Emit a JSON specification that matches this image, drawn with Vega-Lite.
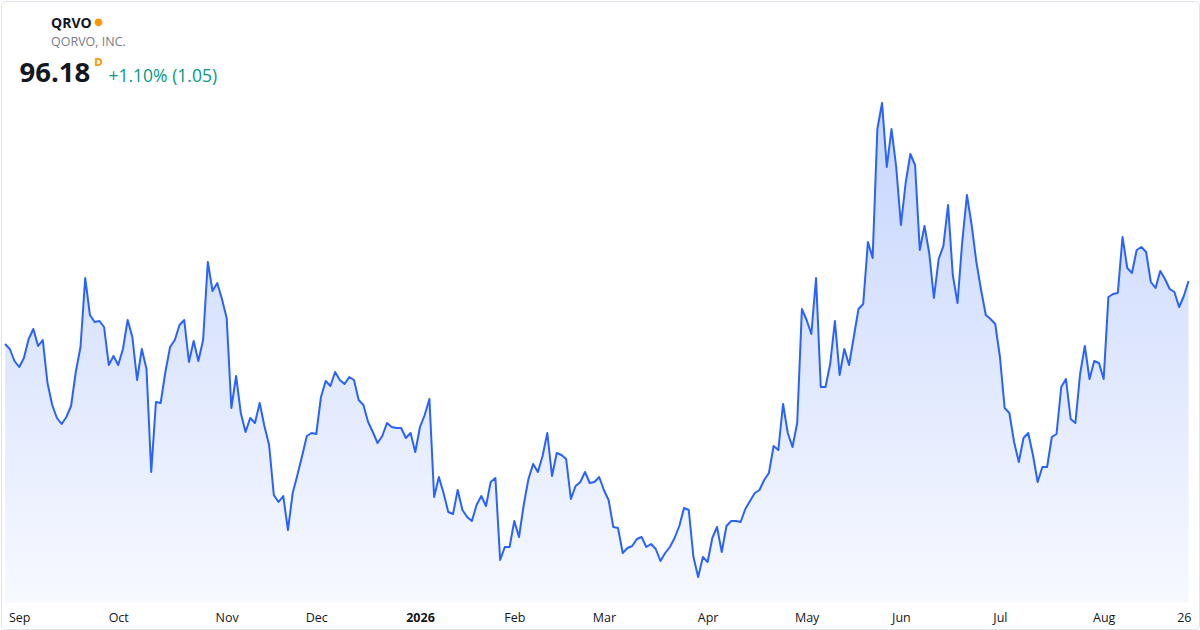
{
  "$schema": "https://vega.github.io/schema/vega-lite/v6.json",
  "width": 1198,
  "height": 628,
  "autosize": {"type": "none"},
  "padding": {"left": 1, "top": 1, "right": 1, "bottom": 1},
  "background": "#ffffff",
  "title": {
    "text": "QRVO",
    "subtitle": "QORVO, INC.",
    "anchor": "start",
    "frame": "group",
    "orient": "top",
    "offset": -47,
    "dx": 50,
    "font": "Open Sans",
    "fontSize": 14,
    "fontWeight": 700,
    "color": "#131722",
    "subtitleFont": "Open Sans",
    "subtitleFontSize": 12.5,
    "subtitleColor": "#787b86",
    "subtitlePadding": 5
  },
  "data": {
    "values": [
      {"date": "2025-08-27", "close": 91.77}, {"date": "2025-08-28", "close": 91.42}, {"date": "2025-08-29", "close": 90.58},
      {"date": "2025-09-02", "close": 90.16}, {"date": "2025-09-03", "close": 90.79}, {"date": "2025-09-04", "close": 92.12},
      {"date": "2025-09-05", "close": 92.82}, {"date": "2025-09-08", "close": 91.63}, {"date": "2025-09-09", "close": 92.05},
      {"date": "2025-09-10", "close": 89.04}, {"date": "2025-09-11", "close": 87.50}, {"date": "2025-09-12", "close": 86.59},
      {"date": "2025-09-15", "close": 86.17}, {"date": "2025-09-16", "close": 86.66}, {"date": "2025-09-17", "close": 87.43},
      {"date": "2025-09-18", "close": 89.81}, {"date": "2025-09-19", "close": 91.56}, {"date": "2025-09-22", "close": 96.39},
      {"date": "2025-09-23", "close": 93.80}, {"date": "2025-09-24", "close": 93.31}, {"date": "2025-09-25", "close": 93.38},
      {"date": "2025-09-26", "close": 92.96}, {"date": "2025-09-29", "close": 90.30}, {"date": "2025-09-30", "close": 90.93},
      {"date": "2025-10-01", "close": 90.30}, {"date": "2025-10-02", "close": 91.42}, {"date": "2025-10-03", "close": 93.45},
      {"date": "2025-10-06", "close": 92.26}, {"date": "2025-10-07", "close": 89.25}, {"date": "2025-10-08", "close": 91.42},
      {"date": "2025-10-09", "close": 90.02}, {"date": "2025-10-10", "close": 82.81}, {"date": "2025-10-13", "close": 87.71},
      {"date": "2025-10-14", "close": 87.64}, {"date": "2025-10-15", "close": 89.81}, {"date": "2025-10-16", "close": 91.56},
      {"date": "2025-10-17", "close": 92.05}, {"date": "2025-10-20", "close": 93.10}, {"date": "2025-10-21", "close": 93.45},
      {"date": "2025-10-22", "close": 90.51}, {"date": "2025-10-23", "close": 91.98}, {"date": "2025-10-24", "close": 90.58},
      {"date": "2025-10-27", "close": 92.05}, {"date": "2025-10-28", "close": 97.51}, {"date": "2025-10-29", "close": 95.48},
      {"date": "2025-10-30", "close": 96.04}, {"date": "2025-10-31", "close": 94.92}, {"date": "2025-11-03", "close": 93.59},
      {"date": "2025-11-04", "close": 87.29}, {"date": "2025-11-05", "close": 89.53}, {"date": "2025-11-06", "close": 86.94},
      {"date": "2025-11-07", "close": 85.61}, {"date": "2025-11-10", "close": 86.59}, {"date": "2025-11-11", "close": 86.24},
      {"date": "2025-11-12", "close": 87.64}, {"date": "2025-11-13", "close": 86.03}, {"date": "2025-11-14", "close": 84.70},
      {"date": "2025-11-17", "close": 81.20}, {"date": "2025-11-18", "close": 80.71}, {"date": "2025-11-19", "close": 81.13},
      {"date": "2025-11-20", "close": 78.75}, {"date": "2025-11-21", "close": 81.34}, {"date": "2025-11-24", "close": 82.60},
      {"date": "2025-11-25", "close": 83.93}, {"date": "2025-11-26", "close": 85.33}, {"date": "2025-11-28", "close": 85.54},
      {"date": "2025-12-01", "close": 85.47}, {"date": "2025-12-02", "close": 88.06}, {"date": "2025-12-03", "close": 89.18},
      {"date": "2025-12-04", "close": 88.83}, {"date": "2025-12-05", "close": 89.81}, {"date": "2025-12-08", "close": 89.25},
      {"date": "2025-12-09", "close": 88.97}, {"date": "2025-12-10", "close": 89.46}, {"date": "2025-12-11", "close": 89.25},
      {"date": "2025-12-12", "close": 87.85}, {"date": "2025-12-15", "close": 87.50}, {"date": "2025-12-16", "close": 86.31},
      {"date": "2025-12-17", "close": 85.61}, {"date": "2025-12-18", "close": 84.84}, {"date": "2025-12-19", "close": 85.33},
      {"date": "2025-12-22", "close": 86.24}, {"date": "2025-12-23", "close": 85.96}, {"date": "2025-12-24", "close": 85.89},
      {"date": "2025-12-26", "close": 85.89}, {"date": "2025-12-29", "close": 85.19}, {"date": "2025-12-30", "close": 85.54},
      {"date": "2025-12-31", "close": 84.21}, {"date": "2026-01-02", "close": 85.96}, {"date": "2026-01-05", "close": 86.80},
      {"date": "2026-01-06", "close": 87.92}, {"date": "2026-01-07", "close": 81.06}, {"date": "2026-01-08", "close": 82.46},
      {"date": "2026-01-09", "close": 81.34}, {"date": "2026-01-12", "close": 80.01}, {"date": "2026-01-13", "close": 79.87},
      {"date": "2026-01-14", "close": 81.55}, {"date": "2026-01-15", "close": 80.15}, {"date": "2026-01-16", "close": 79.66},
      {"date": "2026-01-20", "close": 79.38}, {"date": "2026-01-21", "close": 80.50}, {"date": "2026-01-22", "close": 81.13},
      {"date": "2026-01-23", "close": 80.43}, {"date": "2026-01-26", "close": 82.11}, {"date": "2026-01-27", "close": 82.39},
      {"date": "2026-01-28", "close": 76.65}, {"date": "2026-01-29", "close": 77.56}, {"date": "2026-01-30", "close": 77.56},
      {"date": "2026-02-02", "close": 79.38}, {"date": "2026-02-03", "close": 78.26}, {"date": "2026-02-04", "close": 80.50},
      {"date": "2026-02-05", "close": 82.32}, {"date": "2026-02-06", "close": 83.37}, {"date": "2026-02-09", "close": 82.81},
      {"date": "2026-02-10", "close": 83.93}, {"date": "2026-02-11", "close": 85.54}, {"date": "2026-02-12", "close": 82.53},
      {"date": "2026-02-13", "close": 84.14}, {"date": "2026-02-17", "close": 84.00}, {"date": "2026-02-18", "close": 83.72},
      {"date": "2026-02-19", "close": 80.92}, {"date": "2026-02-20", "close": 81.83}, {"date": "2026-02-23", "close": 82.11},
      {"date": "2026-02-24", "close": 82.81}, {"date": "2026-02-25", "close": 82.04}, {"date": "2026-02-26", "close": 82.11},
      {"date": "2026-02-27", "close": 82.46}, {"date": "2026-03-02", "close": 81.55}, {"date": "2026-03-03", "close": 80.85},
      {"date": "2026-03-04", "close": 78.96}, {"date": "2026-03-05", "close": 78.89}, {"date": "2026-03-06", "close": 77.14},
      {"date": "2026-03-09", "close": 77.49}, {"date": "2026-03-10", "close": 77.63}, {"date": "2026-03-11", "close": 78.12},
      {"date": "2026-03-12", "close": 78.26}, {"date": "2026-03-13", "close": 77.56}, {"date": "2026-03-16", "close": 77.77},
      {"date": "2026-03-17", "close": 77.42}, {"date": "2026-03-18", "close": 76.58}, {"date": "2026-03-19", "close": 77.14},
      {"date": "2026-03-20", "close": 77.56}, {"date": "2026-03-23", "close": 78.19}, {"date": "2026-03-24", "close": 79.03},
      {"date": "2026-03-25", "close": 80.29}, {"date": "2026-03-26", "close": 80.15}, {"date": "2026-03-27", "close": 76.86},
      {"date": "2026-03-30", "close": 75.46}, {"date": "2026-03-31", "close": 76.86}, {"date": "2026-04-01", "close": 76.51},
      {"date": "2026-04-02", "close": 78.19}, {"date": "2026-04-06", "close": 78.96}, {"date": "2026-04-07", "close": 77.21},
      {"date": "2026-04-08", "close": 79.03}, {"date": "2026-04-09", "close": 79.38}, {"date": "2026-04-10", "close": 79.38},
      {"date": "2026-04-13", "close": 79.31}, {"date": "2026-04-14", "close": 80.22}, {"date": "2026-04-15", "close": 80.78},
      {"date": "2026-04-16", "close": 81.34}, {"date": "2026-04-17", "close": 81.55}, {"date": "2026-04-20", "close": 82.25},
      {"date": "2026-04-21", "close": 82.74}, {"date": "2026-04-22", "close": 84.63}, {"date": "2026-04-23", "close": 84.35},
      {"date": "2026-04-24", "close": 87.57}, {"date": "2026-04-27", "close": 85.54}, {"date": "2026-04-28", "close": 84.56},
      {"date": "2026-04-29", "close": 86.24}, {"date": "2026-04-30", "close": 94.22}, {"date": "2026-05-01", "close": 93.45},
      {"date": "2026-05-04", "close": 92.47}, {"date": "2026-05-05", "close": 96.39}, {"date": "2026-05-06", "close": 88.76},
      {"date": "2026-05-07", "close": 88.76}, {"date": "2026-05-08", "close": 90.37}, {"date": "2026-05-11", "close": 93.38},
      {"date": "2026-05-12", "close": 89.60}, {"date": "2026-05-13", "close": 91.42}, {"date": "2026-05-14", "close": 90.30},
      {"date": "2026-05-15", "close": 92.26}, {"date": "2026-05-18", "close": 94.22}, {"date": "2026-05-19", "close": 94.57},
      {"date": "2026-05-20", "close": 98.91}, {"date": "2026-05-21", "close": 97.79}, {"date": "2026-05-22", "close": 106.82},
      {"date": "2026-05-26", "close": 108.64}, {"date": "2026-05-27", "close": 104.16}, {"date": "2026-05-28", "close": 106.82},
      {"date": "2026-05-29", "close": 104.16}, {"date": "2026-06-01", "close": 100.10}, {"date": "2026-06-02", "close": 103.04},
      {"date": "2026-06-03", "close": 105.07}, {"date": "2026-06-04", "close": 104.30}, {"date": "2026-06-05", "close": 98.35},
      {"date": "2026-06-08", "close": 100.03}, {"date": "2026-06-09", "close": 98.14}, {"date": "2026-06-10", "close": 94.99},
      {"date": "2026-06-11", "close": 97.72}, {"date": "2026-06-12", "close": 98.63}, {"date": "2026-06-15", "close": 101.50},
      {"date": "2026-06-16", "close": 96.60}, {"date": "2026-06-17", "close": 94.64}, {"date": "2026-06-18", "close": 98.91},
      {"date": "2026-06-22", "close": 102.20}, {"date": "2026-06-23", "close": 100.10}, {"date": "2026-06-24", "close": 97.51},
      {"date": "2026-06-25", "close": 95.55}, {"date": "2026-06-26", "close": 93.80}, {"date": "2026-06-29", "close": 93.52},
      {"date": "2026-06-30", "close": 93.17}, {"date": "2026-07-01", "close": 90.86}, {"date": "2026-07-02", "close": 87.29},
      {"date": "2026-07-06", "close": 86.94}, {"date": "2026-07-07", "close": 84.91}, {"date": "2026-07-08", "close": 83.51},
      {"date": "2026-07-09", "close": 85.19}, {"date": "2026-07-10", "close": 85.54}, {"date": "2026-07-13", "close": 84.00},
      {"date": "2026-07-14", "close": 82.11}, {"date": "2026-07-15", "close": 83.16}, {"date": "2026-07-16", "close": 83.16},
      {"date": "2026-07-17", "close": 85.26}, {"date": "2026-07-20", "close": 85.47}, {"date": "2026-07-21", "close": 88.76},
      {"date": "2026-07-22", "close": 89.32}, {"date": "2026-07-23", "close": 86.52}, {"date": "2026-07-24", "close": 86.24},
      {"date": "2026-07-27", "close": 89.67}, {"date": "2026-07-28", "close": 91.63}, {"date": "2026-07-29", "close": 89.32},
      {"date": "2026-07-30", "close": 90.58}, {"date": "2026-07-31", "close": 90.44}, {"date": "2026-08-03", "close": 89.32},
      {"date": "2026-08-04", "close": 95.06}, {"date": "2026-08-05", "close": 95.27}, {"date": "2026-08-06", "close": 95.34},
      {"date": "2026-08-07", "close": 99.26}, {"date": "2026-08-10", "close": 97.09}, {"date": "2026-08-11", "close": 96.74},
      {"date": "2026-08-12", "close": 98.35}, {"date": "2026-08-13", "close": 98.56}, {"date": "2026-08-14", "close": 98.21},
      {"date": "2026-08-17", "close": 96.11}, {"date": "2026-08-18", "close": 95.69}, {"date": "2026-08-19", "close": 96.88},
      {"date": "2026-08-20", "close": 96.32}, {"date": "2026-08-21", "close": 95.62}, {"date": "2026-08-24", "close": 95.41},
      {"date": "2026-08-25", "close": 94.36}, {"date": "2026-08-26", "close": 95.13}, {"date": "2026-08-27", "close": 96.18}
    ]
  },
  "resolve": {"axis": {"x": "independent", "y": "independent"}},
  "layer": [
    {
      "mark": {
        "type": "area",
        "fill": {
          "gradient": "linear",
          "x1": 1, "y1": 1, "x2": 1, "y2": 0,
          "stops": [
            {"offset": 0, "color": "#f7f9ff"},
            {"offset": 1, "color": "#c6d5fd"}
          ]
        }
      },
      "encoding": {
        "x": {
          "field": "date",
          "type": "ordinal",
          "scale": {"type": "point", "range": [1.7, 1189.9]},
          "axis": {
            "orient": "bottom",
            "title": null,
            "values": ["2025-09-02", "2025-10-01", "2025-11-03", "2025-12-01", "2026-01-02", "2026-02-02", "2026-03-02", "2026-04-01", "2026-05-01", "2026-06-01", "2026-07-01", "2026-08-03", "2026-08-26"],
            "labelExpr": "datum.value == '2026-01-02' ? '2026' : datum.value == '2026-08-26' ? '26' : ['Jan','Feb','Mar','Apr','May','Jun','Jul','Aug','Sep','Oct','Nov','Dec'][toNumber(slice(datum.value, 5, 7)) - 1]",
            "labelAngle": 0,
            "labelAlign": "center",
            "labelBaseline": "alphabetic",
            "labelPadding": 18,
            "labelFont": "Open Sans",
            "labelFontSize": 12.5,
            "labelColor": "#131722",
            "labelFontWeight": {"condition": {"test": "datum.value == '2026-01-02'", "value": 700}, "value": 400},
            "labelOverlap": false,
            "labelFlush": false,
            "labelBound": false,
            "ticks": false,
            "tickSize": 0,
            "domain": false,
            "grid": false,
            "offset": -26
          }
        },
        "y": {
          "field": "close",
          "type": "quantitative",
          "scale": {"domain": [71.82, 115.78], "zero": false, "nice": false},
          "axis": {
            "orient": "left",
            "labels": false,
            "ticks": false,
            "domain": false,
            "grid": false,
            "title": "96.18",
            "titleAngle": 0,
            "titleAlign": "left",
            "titleBaseline": "alphabetic",
            "titleX": 18,
            "titleY": 80,
            "titleFont": "Open Sans",
            "titleFontSize": 27.5,
            "titleFontWeight": 700,
            "titleColor": "#131722"
          }
        },
        "y2": {"datum": 73.64}
      }
    },
    {
      "mark": {"type": "line", "color": "#2962ff", "strokeWidth": 2, "strokeJoin": "round"},
      "encoding": {
        "x": {
          "field": "date",
          "type": "ordinal",
          "axis": {
            "orient": "top",
            "labels": false,
            "ticks": false,
            "domain": false,
            "grid": false,
            "title": "+1.10% (1.05)",
            "titleAngle": 0,
            "titleAlign": "left",
            "titleBaseline": "alphabetic",
            "titleAnchor": "start",
            "titleX": 107,
            "titleY": 80,
            "titleFont": "Open Sans",
            "titleFontSize": 17.5,
            "titleFontWeight": 400,
            "titleColor": "#089981"
          }
        },
        "y": {
          "field": "close",
          "type": "quantitative",
          "axis": {
            "orient": "right",
            "labels": false,
            "ticks": false,
            "domain": false,
            "grid": false,
            "title": ["●", "D"],
            "titleAngle": 0,
            "titleAlign": "center",
            "titleBaseline": "alphabetic",
            "titleX": -1101,
            "titleY": 23,
            "titleLineHeight": 41,
            "titleFont": "DejaVu Sans",
            "titleFontSize": 10,
            "titleFontWeight": 700,
            "titleColor": "#ff9800"
          }
        }
      }
    }
  ],
  "config": {
    "view": {"stroke": "#e0e3eb", "strokeWidth": 1, "cornerRadius": 4, "fill": "#ffffff"}
  }
}
